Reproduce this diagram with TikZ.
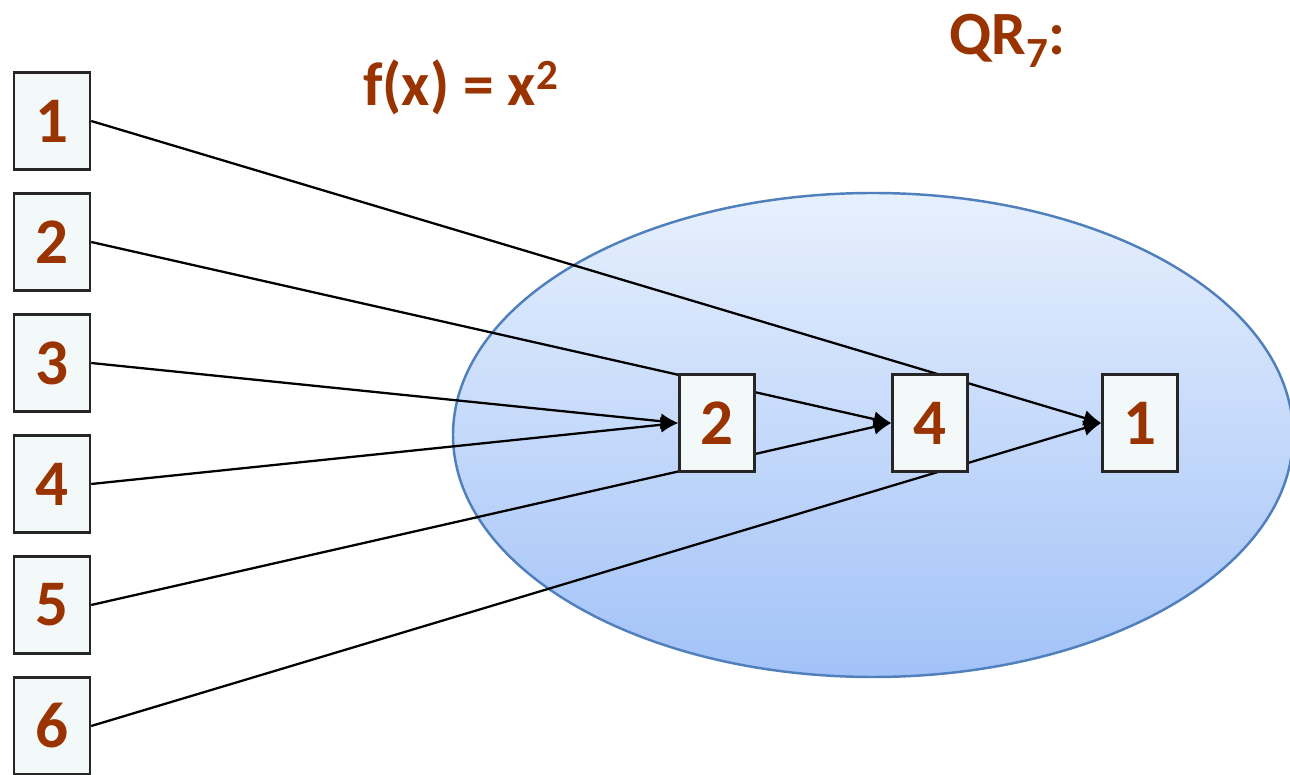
\documentclass[tikz,border=0pt]{standalone}
\usepackage{fontspec}
\setmainfont{Carlito}
\usetikzlibrary{arrows.meta,shapes.geometric,backgrounds}
\definecolor{numbrown}{HTML}{993300}
\definecolor{boxfill}{HTML}{F3F8F8}
\definecolor{setedge}{HTML}{4F7FBC}
\definecolor{settop}{HTML}{E7F0FD}
\definecolor{setbottom}{HTML}{A2C2F8}
\begin{document}
\begin{tikzpicture}[
    numbox/.style={draw=black!85, line width=1.4pt, fill=boxfill, minimum width=1.52cm,
        minimum height=1.94cm, inner sep=0pt, text=numbrown,
        font=\fontsize{37}{40}\selectfont\bfseries},
    maplabel/.style={text=numbrown, font=\fontsize{35}{38}\selectfont\bfseries},
    maparrow/.style={line width=1.3pt, -{Latex[length=10pt,width=9pt]}}
  ]
    \useasboundingbox (0,0) rectangle (25.8,15.5);
    \def\gap{2.42}

    % domain 1..6
    \foreach \n in {1,...,6}
        \node[numbox] (l\n) at (1.04,{13.08-(\n-1)*\gap}) {\n};

    % squares in QR_7
    \node[numbox, minimum width=1.5cm] (r2) at (14.34,7.04) {2};
    \node[numbox, minimum width=1.5cm] (r4) at (18.6,7.04) {4};
    \node[numbox, minimum width=1.5cm] (r1) at (22.8,7.04) {1};

    \node[maplabel] (fx) at (9.22,13.75) {f(x) = x\textsuperscript{2}};
    \node[maplabel] (qr) at (20.15,14.68) {QR\textsubscript{7}:};

    \begin{scope}[on background layer]
        \node[ellipse, draw=setedge, line width=1.4pt, top color=settop, bottom color=setbottom,
            minimum width=16.8cm, minimum height=9.68cm, inner sep=0pt] (qrset) at (17.46,6.8) {};
        \draw[maparrow] (l1.east) -- (r1.west);
        \draw[maparrow] (l2.east) -- (r4.west);
        \draw[maparrow] (l3.east) -- (r2.west);
        \draw[maparrow] (l4.east) -- (r2.west);
        \draw[maparrow] (l5.east) -- (r4.west);
        \draw[maparrow] (l6.east) -- (r1.west);
    \end{scope}
\end{tikzpicture}
\end{document}
